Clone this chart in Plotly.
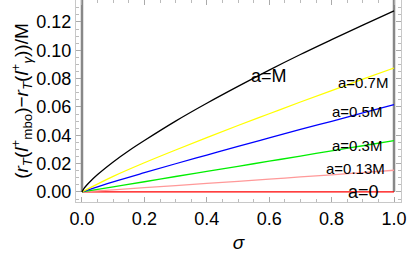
import plotly.graph_objects as go

sigma_black = [0, 0.005, 0.01, 0.02, 0.05, 0.1, 0.15, 0.2, 0.3, 0.4, 0.5, 0.6, 0.7, 0.8, 0.9, 1.0]
val_black = [0, 0.0020, 0.0035, 0.0060, 0.0123, 0.0212, 0.0291, 0.0363, 0.0500, 0.0626, 0.0745, 0.0860, 0.0970, 0.1075, 0.1178, 0.1278]

sigma = [0, 0.1, 0.2, 0.3, 0.4, 0.5, 0.6, 0.7, 0.8, 0.9, 1.0]
val_07 = [0, 0.0110, 0.0206, 0.0296, 0.0383, 0.0469, 0.0552, 0.0635, 0.0716, 0.0796, 0.0875]
val_05 = [0, 0.0071, 0.0136, 0.0199, 0.0260, 0.0321, 0.0381, 0.0441, 0.0499, 0.0558, 0.0616]
val_03 = [0, 0.0036, 0.0072, 0.0109, 0.0145, 0.0181, 0.0217, 0.0253, 0.0290, 0.0326, 0.0362]
val_013 = [0, 0.0015, 0.0030, 0.0045, 0.0060, 0.0075, 0.0090, 0.0106, 0.0121, 0.0137, 0.0153]
val_0 = [0, 0, 0, 0, 0, 0, 0, 0, 0, 0, 0]

labels = ["a=M", "a=0.7M", "a=0.5M", "a=0.3M", "a=0.13M", "a=0"]

FONT = "Liberation Sans, Arial, sans-serif"

fig = go.Figure()
series = [
    (sigma, val_0, "#ff0000"),
    (sigma, val_013, "#ff9999"),
    (sigma, val_03, "#00ee00"),
    (sigma, val_05, "#0000ff"),
    (sigma, val_07, "#ffff00"),
    (sigma_black, val_black, "#000000"),
]
for xs, ys, c in series:
    fig.add_trace(go.Scatter(x=xs, y=ys, mode="lines", line=dict(color=c, width=1.3, shape="spline"), showlegend=False))

ann_pos = [(0.599, 0.0819, 18), (0.901, 0.0776, 15), (0.881, 0.0565, 15), (0.881, 0.0325, 15), (0.876, 0.0169, 15), (0.901, 0.0, 18)]
for lab, (ax, ay, fs) in zip(labels, ann_pos):
    fig.add_annotation(x=ax, y=ay, text=lab, showarrow=False, font=dict(family=FONT, size=fs, color="#000"),
                       xanchor="center", yanchor="middle")

ymin, ymax = -0.0071, 0.1355
for xv in [0, 1]:
    fig.add_shape(type="line", x0=xv, x1=xv, y0=0, y1=ymax, xref="x", yref="y",
                  line=dict(color="#888888", width=2.5), layer="below")

axis_common = dict(showgrid=False, zeroline=False, showline=True, linecolor="#c8c8c8", linewidth=1,
                   mirror="ticks", ticks="inside", ticklen=5, tickcolor="#aaaaaa", tickwidth=1,
                   automargin=False,
                   tickfont=dict(family=FONT, size=18, color="#000"))

fig.update_xaxes(range=[-0.0192, 1.0224], tickvals=[0, 0.2, 0.4, 0.6, 0.8, 1.0],
                 ticktext=["0.0", "0.2", "0.4", "0.6", "0.8", "1.0"],
                 minor=dict(ticks="inside", ticklen=3, tickcolor="#bbbbbb", dtick=0.05, tick0=0, showgrid=False),
                 title=dict(text="<i>σ</i>", font=dict(family=FONT, size=19, color="#000"), standoff=8),
                 **axis_common)
fig.update_yaxes(range=[ymin, ymax], tickvals=[0, 0.02, 0.04, 0.06, 0.08, 0.10, 0.12],
                 ticktext=["0.00", "0.02", "0.04", "0.06", "0.08", "0.10", "0.12"],
                 minor=dict(ticks="inside", ticklen=3, tickcolor="#bbbbbb", dtick=0.005, tick0=0, showgrid=False),
                 title=dict(text="(<i>r<sub>T</sub></i>(<i>l</i><sup>+</sup><sub>mbo</sub>)−<i>r<sub>T</sub></i>(<i>l</i><sup>+</sup><sub><i>γ</i></sub>))/M",
                            font=dict(family=FONT, size=19, color="#000"), standoff=2),
                 **axis_common)

fig.update_layout(width=409, height=256, margin=dict(l=76, r=8, t=0, b=54),
                  paper_bgcolor="white", plot_bgcolor="white")

fig.write_html("out.html", config={"displayModeBar": False},
               post_script="document.body.style.margin='0';document.body.style.overflow='hidden';")
